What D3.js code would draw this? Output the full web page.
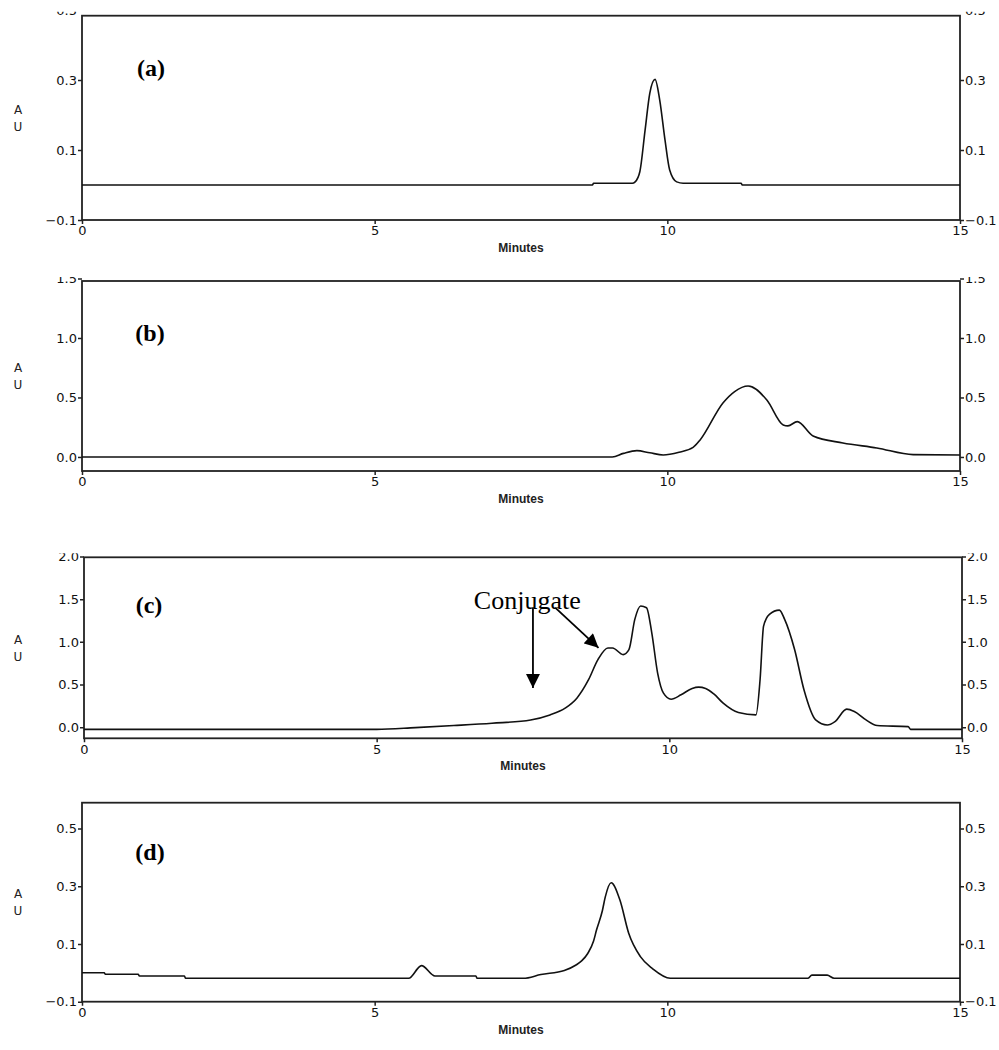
<!DOCTYPE html>
<html>
<head>
<meta charset="utf-8">
<script src="https://cdn.jsdelivr.net/npm/d3@7"></script>
<style>
  body { margin: 0; background: #fff; }
  .tick text { font-family: "DejaVu Sans", sans-serif; font-size: 13px; fill: #111; }
</style>
</head>
<body>
<svg id="chart" width="999" height="1050"></svg>
<script>
// x axis is the same for all four runs
const minuteTicks = [0, 5, 10, 15];

// (a) single sharp peak
const aTime = [0, 8.72, 8.74, 9.40, 9.45, 9.53, 9.62, 9.70, 9.79, 9.87, 9.96, 10.04, 10.16, 10.27, 11.26, 11.28, 15];
const aAU   = [0, 0, 0.005, 0.005, 0.009, 0.038, 0.157, 0.262, 0.302, 0.243, 0.129, 0.043, 0.009, 0.005, 0.005, 0, 0];
const aRange = [-0.1, 0.484];
const aTicks = [-0.1, 0.1, 0.3, 0.5];

// (b) broad peak with a shoulder
const bTime = [0, 9.06, 9.25, 9.48, 9.70, 9.93, 10.2, 10.44, 10.56, 10.95, 11.15, 11.38, 11.70, 11.98, 12.06, 12.22, 12.49, 13.0, 13.58, 14.2, 15];
const bAU   = [0, 0, 0.03, 0.053, 0.035, 0.017, 0.04, 0.08, 0.143, 0.454, 0.55, 0.597, 0.479, 0.269, 0.261, 0.297, 0.176, 0.118, 0.076, 0.02, 0.017];
const bRange = [-0.118, 1.479];
const bTicks = [0, 0.5, 1.0, 1.5];

// (c) conjugate mixture
const cTime = [0, 5.0, 5.66, 6.32, 6.97, 7.63, 7.96, 8.22, 8.42, 8.62, 8.78, 8.95, 9.03, 9.21, 9.31, 9.41, 9.51, 9.61, 9.70, 9.80, 9.90, 10.03, 10.2, 10.39, 10.5, 10.62, 10.76, 10.92, 11.18, 11.48, 11.55, 11.61, 11.71, 11.88, 11.97, 12.14, 12.3, 12.5, 12.7, 12.83, 13.03, 13.16, 13.36, 13.55, 14.08, 14.12, 15];
const cAU   = [-0.024, -0.024, -0.004, 0.02, 0.047, 0.086, 0.145, 0.224, 0.341, 0.557, 0.792, 0.929, 0.929, 0.851, 0.91, 1.263, 1.42, 1.40, 1.106, 0.635, 0.40, 0.329, 0.38, 0.455, 0.47, 0.455, 0.39, 0.282, 0.173, 0.145, 0.557, 1.184, 1.322, 1.372, 1.263, 0.91, 0.439, 0.086, 0.027, 0.067, 0.212, 0.184, 0.086, 0.02, 0.008, -0.024, -0.024];
const cRange = [-0.129, 1.99];
const cTicks = [0, 0.5, 1.0, 1.5, 2.0];

// arrows pointing at the conjugate, in minutes / AU
const conjLabel = { text: "Conjugate", t: 6.66, au: 1.39 };
const conjArrows = [
  { t0: 7.67, au0: 1.40, t1: 7.67, au1: 0.46 },
  { t0: 8.05, au0: 1.40, t1: 8.79, au1: 0.93 }
];

// (d)
const dTime = [0, 0.38, 0.40, 0.96, 0.98, 1.75, 1.77, 5.58, 5.80, 6.03, 6.73, 6.75, 7.54, 7.84, 8.24, 8.44, 8.54, 8.64, 8.74, 8.79, 8.89, 8.94, 9.04, 9.19, 9.34, 9.54, 9.75, 10.05, 12.40, 12.47, 12.73, 12.85, 15];
const dAU   = [0, 0, -0.005, -0.005, -0.011, -0.011, -0.019, -0.019, 0.025, -0.011, -0.011, -0.019, -0.019, -0.006, 0.008, 0.027, 0.042, 0.067, 0.11, 0.148, 0.215, 0.263, 0.312, 0.252, 0.137, 0.056, 0.014, -0.019, -0.019, -0.008, -0.008, -0.019, -0.019];
const dRange = [-0.1, 0.589];
const dTicks = [-0.1, 0.1, 0.3, 0.5];

// panel boxes (pixels)
const panels = [
  { id: "a", tag: "(a)", time: aTime, au: aAU, range: aRange, ticks: aTicks,
    left: 82, right: 960, top: 15.7, bottom: 220, tagX: 151, tagY: 68 },
  { id: "b", tag: "(b)", time: bTime, au: bAU, range: bRange, ticks: bTicks,
    left: 82, right: 960, top: 281, bottom: 471, tagX: 150, tagY: 333 },
  { id: "c", tag: "(c)", time: cTime, au: cAU, range: cRange, ticks: cTicks,
    left: 84, right: 962, top: 557.3, bottom: 738.3, tagX: 149, tagY: 605 },
  { id: "d", tag: "(d)", time: dTime, au: dAU, range: dRange, ticks: dTicks,
    left: 82, right: 960, top: 802.7, bottom: 1001.7, tagX: 150, tagY: 852 }
];

const svg = d3.select("#chart");
svg.append("rect").attr("width", 999).attr("height", 1050).attr("fill", "#fff");

const defs = svg.append("defs");
defs.append("marker")
  .attr("id", "head")
  .attr("viewBox", "0 0 10 10")
  .attr("refX", 10).attr("refY", 5)
  .attr("markerUnits", "userSpaceOnUse")
  .attr("markerWidth", 15).attr("markerHeight", 14)
  .attr("orient", "auto")
  .append("path").attr("d", "M0,0 L10,5 L0,10 Z").attr("fill", "#000");

const fmt = d3.format(".1f");

panels.forEach(p => {
  const x = d3.scaleLinear().domain([0, 15]).range([p.left, p.right]);
  const y = d3.scaleLinear().domain(p.range).range([p.bottom, p.top]);

  // the top tick label is cut off just above the frame in the original
  defs.append("clipPath").attr("id", "clip-" + p.id)
    .append("rect").attr("x", 0).attr("y", p.top - 4).attr("width", 999).attr("height", p.bottom - p.top + 60);

  const g = svg.append("g").attr("clip-path", `url(#clip-${p.id})`);

  const left = g.append("g").attr("transform", `translate(${p.left},0)`)
    .call(d3.axisLeft(y).tickValues(p.ticks).tickFormat(fmt).tickSize(4).tickPadding(1));
  const right = g.append("g").attr("transform", `translate(${p.right},0)`)
    .call(d3.axisRight(y).tickValues(p.ticks).tickFormat(fmt).tickSize(4).tickPadding(1));
  const bottom = g.append("g").attr("transform", `translate(0,${p.bottom})`)
    .call(d3.axisBottom(x).tickValues(minuteTicks).tickSize(4).tickPadding(2));

  [left, right, bottom].forEach(a => {
    a.select(".domain").remove();
    a.selectAll(".tick line").attr("stroke", "#222").attr("stroke-width", 1.5);
  });

  // frame
  svg.append("rect")
    .attr("x", p.left).attr("y", p.top)
    .attr("width", p.right - p.left).attr("height", p.bottom - p.top)
    .attr("fill", "none").attr("stroke", "#222").attr("stroke-width", 1.8);

  // chromatogram trace
  const line = d3.line()
    .x((d, i) => x(p.time[i]))
    .y(d => y(d))
    .curve(d3.curveMonotoneX);
  svg.append("path")
    .datum(p.au)
    .attr("d", line)
    .attr("fill", "none")
    .attr("stroke", "#111")
    .attr("stroke-width", 1.6)
    .attr("stroke-linejoin", "round");

  // axis titles
  svg.append("text")
    .attr("x", (p.left + p.right) / 2).attr("y", p.bottom + 32)
    .attr("text-anchor", "middle")
    .style("font-family", "'Liberation Sans', Arial, sans-serif")
    .style("font-size", "12px").style("font-weight", "bold")
    .attr("fill", "#222")
    .text("Minutes");

  const mid = (p.top + p.bottom) / 2;
  ["A", "U"].forEach((ch, i) => {
    svg.append("text")
      .attr("x", 18).attr("y", mid - 8.5 + i * 17)
      .attr("dy", "0.36em")
      .attr("text-anchor", "middle")
      .style("font-family", "'DejaVu Sans', sans-serif")
      .style("font-size", "12px")
      .attr("fill", "#222")
      .text(ch);
  });

  // panel letter
  svg.append("text")
    .attr("x", p.tagX).attr("y", p.tagY)
    .attr("dy", "0.35em")
    .attr("text-anchor", "middle")
    .style("font-family", "'Liberation Serif', 'Times New Roman', serif")
    .style("font-size", "24px").style("font-weight", "bold")
    .text(p.tag);

  if (p.id === "c") {
    svg.append("text")
      .attr("x", x(conjLabel.t)).attr("y", y(conjLabel.au))
      .style("font-family", "'Liberation Serif', 'Times New Roman', serif")
      .style("font-size", "26px")
      .text(conjLabel.text);

    svg.selectAll("line.arrow")
      .data(conjArrows)
      .enter()
      .append("line")
      .attr("class", "arrow")
      .attr("x1", d => x(d.t0)).attr("y1", d => y(d.au0))
      .attr("x2", d => x(d.t1)).attr("y2", d => y(d.au1))
      .attr("stroke", "#000").attr("stroke-width", 1.8)
      .attr("marker-end", "url(#head)");
  }
});
</script>
</body>
</html>
